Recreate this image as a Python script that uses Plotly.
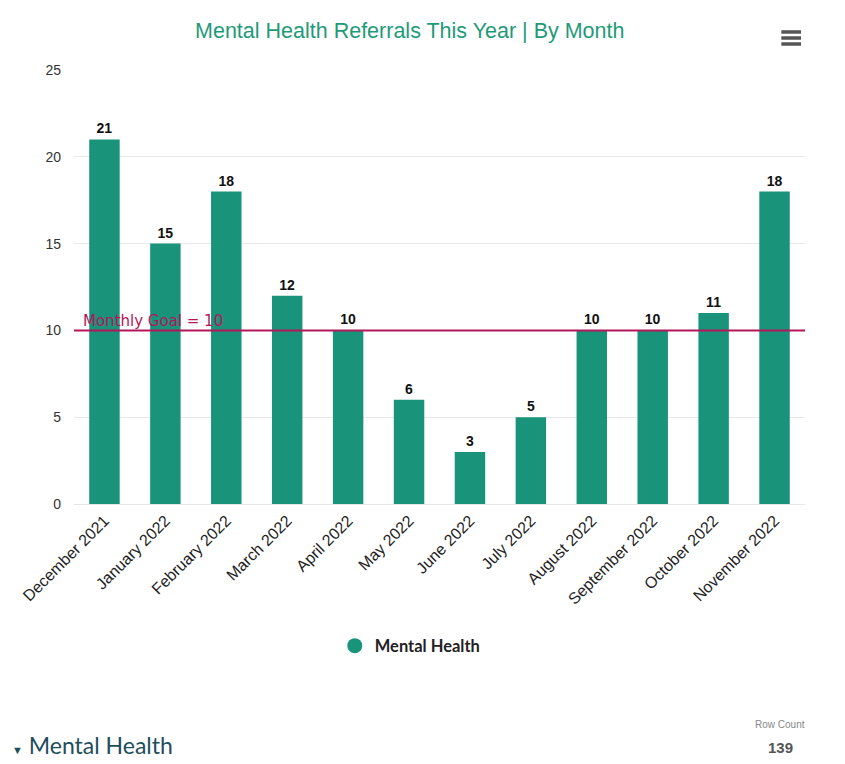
import plotly.graph_objects as go

months = ["December 2021", "January 2022", "February 2022", "March 2022", "April 2022",
          "May 2022", "June 2022", "July 2022", "August 2022", "September 2022",
          "October 2022", "November 2022"]
referrals = [21, 15, 18, 12, 10, 6, 3, 5, 10, 10, 11, 18]
goal = 10
series_name = "Mental Health"
title = "Mental Health Referrals This Year | By Month"
row_count = 139

bar_color = "#1a937b"
goal_color = "#b3175a"

fig = go.Figure()
fig.add_trace(go.Bar(
    x=months, y=referrals, name=series_name, showlegend=False,
    marker=dict(color=bar_color, line=dict(width=0)),
    text=[f"<b>{v}</b>" for v in referrals], textposition="outside",
    textfont=dict(family="Arial", size=14, color="#111111"),
    cliponaxis=False,
))
# legend entry drawn as a circle
fig.add_trace(go.Scatter(
    x=[None], y=[None], mode="markers", name=f"<b>{series_name}</b>",
    marker=dict(color=bar_color, size=15, symbol="circle"), showlegend=True,
))

fig.add_shape(type="line", xref="paper", yref="y", x0=0, x1=1, y0=goal, y1=goal,
              line=dict(color=goal_color, width=2))
fig.add_annotation(xref="paper", yref="y", x=0.010, y=goal, text=f"Monthly Goal = {goal}",
                   showarrow=False, xanchor="left", yanchor="bottom", yshift=-2,
                   font=dict(family="DejaVu Sans", size=15, color=goal_color))

# hamburger menu icon
for yy in [1.0876, 1.0737, 1.0599]:
    fig.add_shape(type="line", xref="paper", yref="paper", x0=0.9676, x1=0.9946,
                  y0=yy, y1=yy, line=dict(color="#555555", width=3.5))

fig.add_annotation(xref="paper", yref="paper", x=-0.088, y=-0.556,
                   text="<span style='font-size:11px'>▼</span> Mental Health",
                   showarrow=False, xanchor="left", yanchor="middle",
                   font=dict(family="Lato", size=23, color="#1e4e5a"))
fig.add_annotation(xref="paper", yref="paper", x=0.966, y=-0.509, text="Row Count",
                   showarrow=False, xanchor="center", yanchor="middle",
                   font=dict(family="Arial", size=10, color="#888888"))
fig.add_annotation(xref="paper", yref="paper", x=0.966, y=-0.562, text=f"<b>{row_count}</b>",
                   showarrow=False, xanchor="center", yanchor="middle",
                   font=dict(family="Arial", size=15, color="#555555"))

fig.update_layout(
    width=837, height=756,
    margin=dict(l=56, r=40, t=62, b=260),
    paper_bgcolor="white", plot_bgcolor="white",
    title=dict(text=title, x=0.480, xanchor="center", y=0.970, yanchor="middle",
               font=dict(family="Arial", size=21.5, color="#1f9a78")),
    bargap=0.5,
    showlegend=True,
    legend=dict(orientation="h", x=0.460, xanchor="center", y=-0.327, yanchor="middle",
                font=dict(family="Lato", size=16.5, color="#222222")),
    font=dict(family="Arial"),
)
fig.update_xaxes(tickangle=-45, tickfont=dict(family="Arial", size=16, color="#222222"),
                 showgrid=False, showline=True, linecolor="#e6e6e6", ticks="")
fig.update_yaxes(range=[0, 25], dtick=5, showgrid=True, gridcolor="#e8e8e8",
                 tickfont=dict(family="Arial", size=14, color="#333333"),
                 zeroline=False, ticks="", ticklabelstandoff=12)

fig.write_html("out.html")
